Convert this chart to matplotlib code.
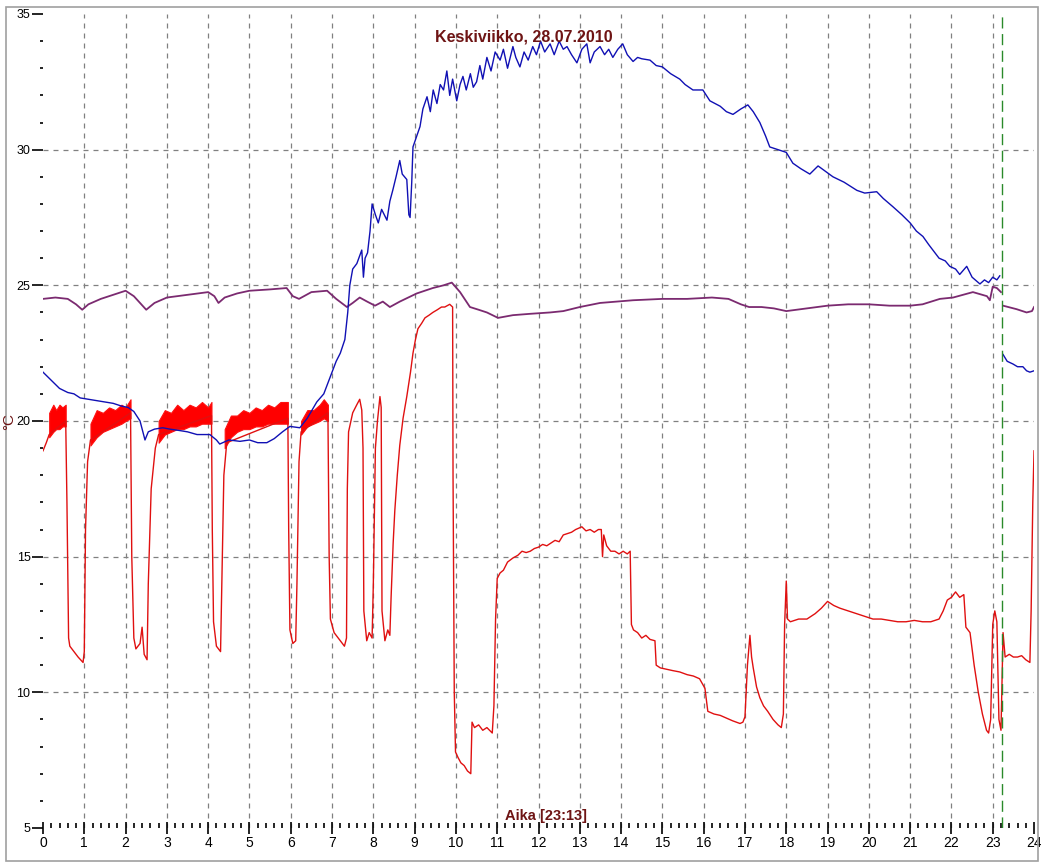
import numpy as np
import matplotlib.pyplot as plt
from matplotlib.patches import Rectangle

nan = np.nan

# Red series (hours, deg C)
red_t = [0.0, 0.08, 0.15, 0.55, 0.58, 0.62, 0.65, 0.75, 0.85, 0.97, 1.0, 1.03, 1.08, 1.15,
         2.12, 2.15, 2.2, 2.25, 2.35, 2.4, 2.45, 2.52, 2.55, 2.62, 2.72, 2.8,
         4.08, 4.1, 4.13, 4.2, 4.3, 4.33, 4.38, 4.45,
         5.93, 5.95, 5.98, 6.05, 6.12, 6.15, 6.2, 6.25,
         6.9, 6.93, 6.96, 7.05, 7.2, 7.3, 7.35, 7.37, 7.4, 7.5, 7.6, 7.67, 7.72, 7.75,
         7.77, 7.84, 7.9, 7.97, 8.0, 8.05, 8.1, 8.16, 8.19, 8.21, 8.28, 8.35, 8.4, 8.43,
         8.48, 8.52, 8.58, 8.64, 8.72, 8.81, 8.9, 8.96, 9.02, 9.08, 9.17, 9.25, 9.35,
         9.44, 9.55, 9.65, 9.73, 9.85, 9.92, 9.93, 9.96, 9.99, 10.05, 10.12, 10.2, 10.28,
         10.36, 10.39, 10.45, 10.55, 10.65, 10.75, 10.88, 10.92, 10.96, 11.0, 11.07,
         11.15, 11.25, 11.38, 11.5, 11.6, 11.7, 11.8, 11.9, 12.0, 12.1, 12.2, 12.3, 12.4,
         12.5, 12.6, 12.7, 12.8, 12.9, 13.05, 13.15, 13.25, 13.35, 13.45, 13.52, 13.55,
         13.58, 13.65, 13.75, 13.85, 13.95, 14.05, 14.15, 14.22, 14.25, 14.3, 14.4, 14.5,
         14.6, 14.7, 14.82, 14.85, 14.95, 15.1, 15.25, 15.42, 15.6, 15.75, 15.9, 16.03,
         16.1, 16.25, 16.4, 16.55, 16.7, 16.88, 16.95, 17.0, 17.06, 17.12, 17.16, 17.2,
         17.28, 17.36, 17.45, 17.55, 17.68, 17.8, 17.88, 17.93, 17.96, 18.0, 18.03, 18.1,
         18.3, 18.5, 18.7, 18.85, 19.0, 19.15, 19.3, 19.5, 19.7, 19.9, 20.1, 20.3, 20.5,
         20.7, 20.9, 21.1, 21.3, 21.5, 21.7, 21.8, 21.9, 22.0, 22.1, 22.2, 22.3, 22.35,
         22.45, 22.55, 22.65, 22.75, 22.85, 22.9, 22.95, 23.0, 23.05, 23.1, 23.15, 23.2,
         23.25, 23.3, 23.4, 23.5, 23.6, 23.7, 23.8, 23.9, 23.93, 23.97, 24.0]
red_v = [18.9, 19.2, 19.5, 20.0, 17.0, 12.0, 11.7, 11.5, 11.3, 11.1, 11.5, 16.0, 18.5, 19.3,
         20.3, 15.0, 12.0, 11.6, 11.8, 12.4, 11.4, 11.2, 14.0, 17.5, 19.0, 19.5,
         20.2, 16.0, 12.6, 11.7, 11.5, 14.0, 18.0, 19.2,
         20.1, 16.0, 12.3, 11.8, 11.9, 14.0, 18.5, 19.6,
         20.3, 15.0, 12.7, 12.2, 11.9, 11.7, 12.0, 17.5, 19.6, 20.3, 20.6, 20.8, 20.4, 19.0,
         13.0, 11.9, 12.2, 12.0, 14.0, 19.0, 20.0, 20.9, 20.5, 13.0, 11.9, 12.3, 12.1, 13.5,
         15.5, 16.7, 18.0, 19.1, 20.1, 20.9, 21.8, 22.5, 23.0, 23.4, 23.6, 23.8, 23.9,
         24.0, 24.1, 24.2, 24.2, 24.3, 24.2, 18.0, 10.0, 7.8, 7.6, 7.4, 7.3, 7.1,
         7.0, 8.9, 8.7, 8.8, 8.6, 8.7, 8.5, 9.5, 12.7, 14.2, 14.4,
         14.5, 14.8, 14.95, 15.05, 15.2, 15.15, 15.2, 15.3, 15.35, 15.45, 15.4, 15.5, 15.6,
         15.55, 15.8, 15.85, 15.9, 16.0, 16.1, 15.95, 16.0, 15.9, 16.0, 16.0, 15.0,
         15.8, 15.4, 15.2, 15.2, 15.1, 15.2, 15.1, 15.2, 12.5, 12.3, 12.2, 12.0,
         12.1, 11.95, 11.9, 11.0, 10.9, 10.85, 10.8, 10.75, 10.65, 10.6, 10.5, 10.15,
         9.3, 9.2, 9.15, 9.05, 8.95, 8.85, 8.9, 9.1, 11.0, 12.1, 11.3, 10.9,
         10.2, 9.8, 9.5, 9.3, 9.0, 8.8, 8.7, 9.2, 12.5, 14.1, 12.7, 12.6,
         12.7, 12.7, 12.9, 13.1, 13.35, 13.2, 13.1, 13.0, 12.9, 12.8, 12.7, 12.7, 12.65,
         12.6, 12.6, 12.65, 12.6, 12.6, 12.7, 13.0, 13.4, 13.5, 13.7, 13.5, 13.6, 12.4,
         12.2, 11.0, 10.0, 9.2, 8.6, 8.5, 9.0, 12.5, 13.0, 12.6, 9.0, 8.6,
         12.2, 11.3, 11.4, 11.3, 11.3, 11.35, 11.2, 11.1, 13.0, 17.0, 18.9]

# Red oscillating plateaus (lower / upper edge)
band_t = [[0.15, 0.25, 0.32, 0.4, 0.47, 0.55],
          [1.15, 1.3, 1.45, 1.6, 1.75, 1.9, 2.0, 2.12],
          [2.8, 2.95, 3.1, 3.25, 3.4, 3.55, 3.7, 3.85, 4.0, 4.08],
          [4.4, 4.55, 4.7, 4.85, 5.0, 5.15, 5.3, 5.45, 5.6, 5.75, 5.93],
          [6.25, 6.4, 6.55, 6.7, 6.8, 6.9]]
band_lo = [[19.4, 19.6, 19.7, 19.7, 19.8, 19.8],
           [19.1, 19.4, 19.6, 19.7, 19.8, 19.9, 20.0, 20.1],
           [19.2, 19.5, 19.6, 19.7, 19.7, 19.8, 19.8, 19.9, 19.9, 19.9],
           [19.0, 19.4, 19.6, 19.7, 19.7, 19.8, 19.8, 19.9, 19.9, 19.9, 19.9],
           [19.5, 19.8, 19.9, 20.0, 20.1, 20.0]]
band_hi = [[20.3, 20.6, 20.4, 20.6, 20.5, 20.6],
           [19.9, 20.4, 20.3, 20.5, 20.4, 20.6, 20.5, 20.8],
           [20.0, 20.4, 20.3, 20.6, 20.4, 20.6, 20.5, 20.7, 20.5, 20.7],
           [19.7, 20.2, 20.2, 20.4, 20.3, 20.5, 20.4, 20.6, 20.5, 20.7, 20.7],
           [20.0, 20.4, 20.4, 20.6, 20.8, 20.6]]

# Blue series
blue_t = [0.0, 0.2, 0.4, 0.6, 0.75, 0.9, 1.1, 1.3, 1.5, 1.7, 1.9, 2.06, 2.2, 2.35, 2.47,
          2.55, 2.7, 2.9, 3.07, 3.3, 3.5, 3.73, 4.04, 4.2, 4.28, 4.5, 4.77, 5.0, 5.2, 5.42,
          5.6, 5.8, 5.98, 6.22, 6.4, 6.63, 6.8, 6.95, 7.1, 7.2, 7.31, 7.38, 7.43, 7.5, 7.6,
          7.72, 7.76, 7.8, 7.86, 7.92, 7.97, 8.05, 8.12, 8.2, 8.33, 8.4, 8.47, 8.55, 8.64,
          8.7, 8.81, 8.86, 8.89, 8.93, 8.96, 9.05, 9.13, 9.2, 9.3, 9.38, 9.45, 9.54, 9.62,
          9.7, 9.78, 9.85, 9.92, 10.02, 10.1, 10.17, 10.25, 10.35, 10.42, 10.5, 10.58,
          10.65, 10.75, 10.85, 10.95, 11.07, 11.15, 11.25, 11.38, 11.45, 11.55, 11.65,
          11.75, 11.86, 11.95, 12.05, 12.15, 12.28, 12.38, 12.5, 12.6, 12.69, 12.8, 12.93,
          13.05, 13.17, 13.25, 13.35, 13.49, 13.6, 13.7, 13.8, 13.92, 14.04, 14.15, 14.29,
          14.4, 14.5, 14.7, 14.85, 15.0, 15.2, 15.42, 15.55, 15.74, 15.98, 16.15, 16.4,
          16.55, 16.71, 16.9, 17.07, 17.2, 17.36, 17.5, 17.6, 17.8, 18.0, 18.16, 18.35,
          18.57, 18.77, 18.95, 19.13, 19.4, 19.71, 19.9, 20.19, 20.35, 20.58, 20.8, 21.0,
          21.15, 21.31, 21.45, 21.55, 21.7, 21.85, 21.96, 22.1, 22.2, 22.37, 22.5, 22.69,
          22.8, 22.9, 23.0, 23.1, 23.17, 23.2,
          23.25, 23.35, 23.49, 23.6, 23.73, 23.82, 23.9, 24.0]
blue_v = [21.8, 21.5, 21.2, 21.05, 21.0, 20.85, 20.8, 20.75, 20.7, 20.65, 20.55, 20.5, 20.35, 20.0, 19.3,
          19.6, 19.7, 19.75, 19.7, 19.65, 19.6, 19.5, 19.5, 19.3, 19.15, 19.3, 19.25, 19.3, 19.2, 19.2,
          19.35, 19.6, 19.8, 19.75, 20.1, 20.7, 21.0, 21.6, 22.2, 22.5, 23.0, 24.0, 25.0, 25.6, 25.8,
          26.3, 25.3, 26.0, 26.2, 27.0, 28.0, 27.6, 27.3, 27.8, 27.4, 28.1, 28.5, 29.0, 29.6,
          29.1, 28.9, 27.6, 27.5, 28.8, 30.1, 30.5, 30.85, 31.5, 31.95, 31.4, 32.2, 31.7, 32.4,
          32.2, 32.9, 32.0, 32.6, 31.8, 32.4, 32.7, 32.2, 32.8, 32.3, 32.5, 33.1,
          32.6, 33.4, 32.9, 33.6, 33.3, 33.7, 33.0, 33.8, 33.4, 33.05, 33.6,
          33.3, 33.8, 33.5, 34.0, 33.6, 33.9, 33.5, 34.0, 33.7, 33.8, 33.5, 33.2,
          33.7, 33.9, 33.2, 33.6, 33.8, 33.5, 33.7, 33.4, 33.7, 33.9, 33.5, 33.25,
          33.4, 33.35, 33.3, 33.1, 33.05, 32.8, 32.6, 32.4, 32.2, 32.2, 31.8, 31.6,
          31.4, 31.3, 31.5, 31.65, 31.4, 31.0, 30.5, 30.1, 30.0, 29.9, 29.5, 29.3,
          29.1, 29.4, 29.2, 29.0, 28.8, 28.5, 28.4, 28.45, 28.2, 27.9, 27.6, 27.3,
          27.0, 26.8, 26.5, 26.3, 26.0, 25.9, 25.7, 25.6, 25.4, 25.7, 25.3, 25.05,
          25.2, 25.1, 25.3, 25.2, 25.35, nan,
          22.45, 22.2, 22.1, 22.0, 22.0, 21.85, 21.8, 21.85]

# Purple series
purple_t = [0.0, 0.3, 0.6, 0.8, 0.95, 1.1, 1.4, 1.7, 2.0, 2.2, 2.5, 2.7, 3.0, 3.5, 4.0,
            4.15, 4.25, 4.4, 4.7, 5.0, 5.5, 5.9, 6.05, 6.2, 6.5, 6.88, 7.1, 7.36, 7.5,
            7.67, 7.85, 8.04, 8.23, 8.4, 8.64, 9.05, 9.44, 9.7, 9.9, 10.1, 10.34, 10.55,
            10.75, 11.02, 11.38, 11.8, 12.28, 12.6, 13.0, 13.49, 14.29, 15.0, 15.6, 16.2,
            16.6, 16.9, 17.1, 17.4, 17.7, 18.0, 18.5, 19.0, 19.5, 20.0, 20.5, 21.0, 21.3,
            21.72, 22.04, 22.52, 22.86, 22.93, 23.0, 23.1, 23.2, 23.22,
            23.25, 23.58, 23.82, 23.95, 24.0]
purple_v = [24.5, 24.55, 24.5, 24.3, 24.1, 24.3, 24.5, 24.65, 24.8, 24.6, 24.1, 24.35, 24.55, 24.65, 24.75,
            24.6, 24.35, 24.55, 24.7, 24.8, 24.85, 24.9, 24.6, 24.5, 24.75, 24.8, 24.5, 24.2, 24.35,
            24.55, 24.4, 24.25, 24.4, 24.2, 24.4, 24.7, 24.9, 25.0, 25.1, 24.75, 24.2, 24.1,
            24.0, 23.8, 23.9, 23.95, 24.0, 24.05, 24.2, 24.35, 24.45, 24.5, 24.5, 24.55,
            24.5, 24.3, 24.2, 24.2, 24.15, 24.05, 24.15, 24.25, 24.3, 24.3, 24.25, 24.25, 24.3,
            24.5, 24.55, 24.75, 24.6, 24.45, 24.95, 24.9, 24.75, nan,
            24.25, 24.12, 24.0, 24.05, 24.2]

cursor_time = 23 + 13 / 60
title_text = "Keskiviikko, 28.07.2010"
cursor_text = "Aika [23:13]"
text_col = "#6e1414"

plt.rcParams['font.family'] = ['Liberation Sans', 'DejaVu Sans']

fig = plt.figure(figsize=(10.41, 8.64), dpi=100)
ax = fig.add_axes([0.0413, 0.0417, 0.952, 0.9421])

for t, lo, hi in zip(band_t, band_lo, band_hi):
    ax.fill_between(t, lo, hi, color='#ff0000', linewidth=0.8, edgecolor='#ff1010')
ax.plot(red_t, red_v, color='#e01010', lw=1.0)
ax.plot(purple_t, purple_v, color='#7b2a70', lw=1.3)
ax.plot(blue_t, blue_v, color='#1010b4', lw=1.0)

ax.axvline(cursor_time, color='#2a8a2a', lw=1.0, ls=(0, (8, 4)))

ax.set_xlim(0, 24)
ax.set_ylim(5, 35)
ax.set_xticks(range(0, 25))
ax.set_xticks(np.arange(0, 24.01, 0.2), minor=True)
ax.set_yticks(range(5, 36, 5))
ax.set_yticks(range(5, 36), minor=True)

for s in ax.spines.values():
    s.set_visible(False)

ax.tick_params(axis='x', which='major', direction='inout', length=8, width=1.2,
               labelsize=10, pad=2)
ax.tick_params(axis='x', which='minor', direction='in', length=3.5, width=1.2)
ax.tick_params(axis='y', which='major', direction='out', length=8, width=1.2,
               labelsize=9, pad=1)
ax.tick_params(axis='y', which='minor', direction='out', length=2.5, width=1.2)

for v in range(10, 35, 5):
    ax.axhline(v, color='#808080', lw=0.9, ls=(0, (4, 4)), zorder=0)
for h in range(1, 24):
    ax.axvline(h, color='#808080', lw=0.9, ls=(0, (4, 4)), zorder=0)

ax.text(0.485, 0.972, title_text, transform=ax.transAxes, ha='center', va='center',
        fontsize=11.5, fontweight='bold', color=text_col)
ax.text(0.508, 0.015, cursor_text, transform=ax.transAxes, ha='center', va='center',
        fontsize=10.5, fontweight='bold', color=text_col)
fig.text(0.0085, 0.512, "°C", rotation=90, ha='center', va='center',
         fontsize=11, color=text_col)

fig.patches.append(Rectangle((0.006, 0.004), 0.991, 0.988, transform=fig.transFigure,
                             fill=False, edgecolor='#a0a0a0', lw=1.2))

fig.savefig("out.png", dpi=100)
